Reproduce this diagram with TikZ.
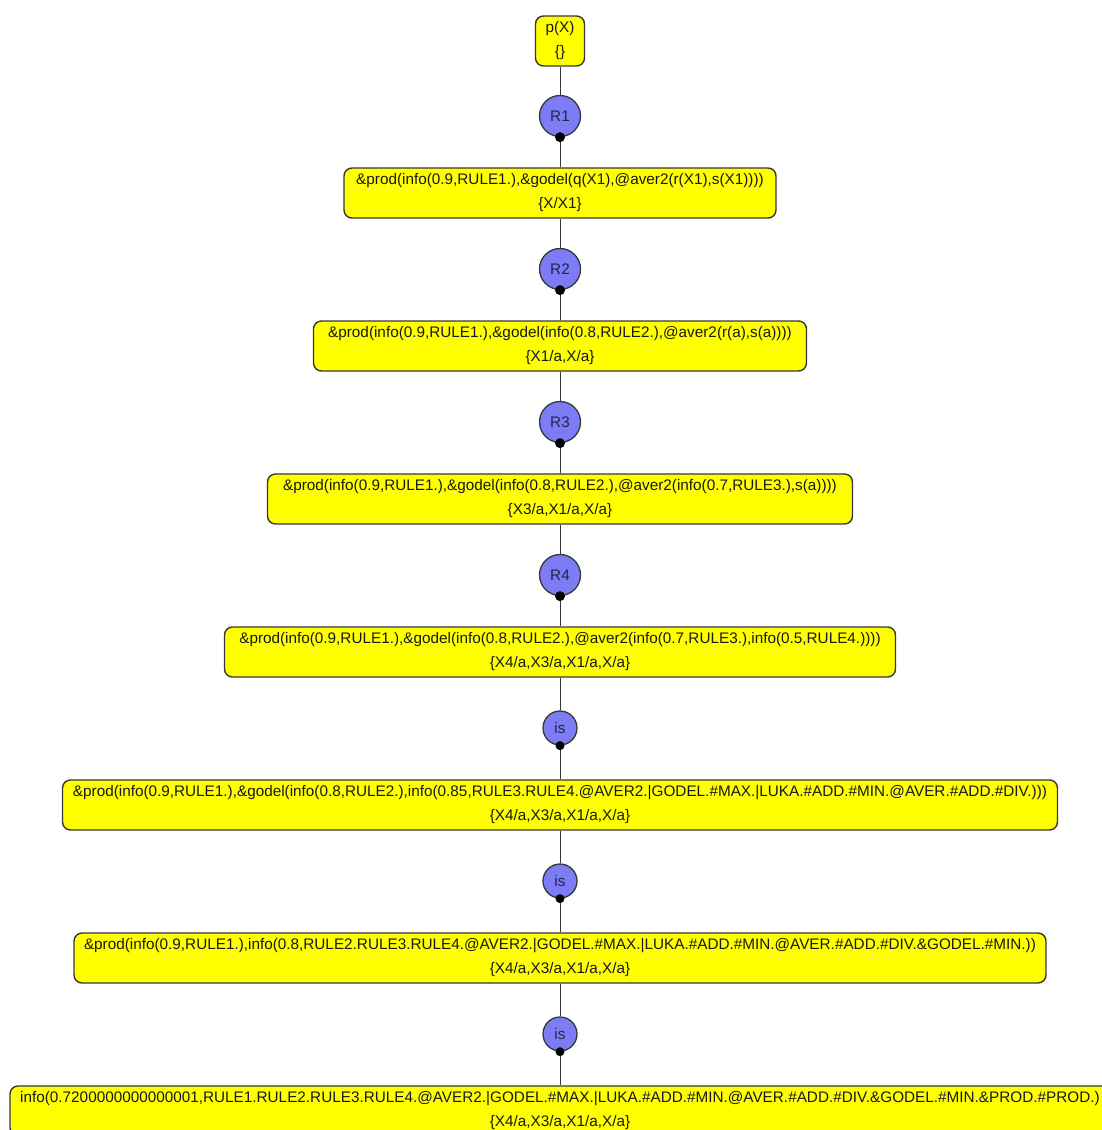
\documentclass[tikz,border=0pt]{standalone}
\usepackage{fontspec}
\setmainfont{Liberation Sans}
\usepackage{tikz}
\definecolor{figline}{RGB}{55,55,55}
\definecolor{goalfill}{RGB}{255,255,0}
\definecolor{rulefill}{RGB}{124,124,244}
\definecolor{ruletext}{RGB}{35,35,75}
\definecolor{goaltext}{RGB}{25,25,25}
\tikzset{
  gbox/.style  ={draw=figline, fill=goalfill, line width=1.4pt, rounded corners=8pt, minimum height=50pt, inner xsep=10pt, inner ysep=0pt, align=center, text=goaltext, font=\fontsize{15.3}{24}\selectfont},
  rcirc/.style ={circle, draw=figline, fill=rulefill, line width=1.3pt, inner sep=0pt, minimum size=41pt, text=ruletext, font=\fontsize{15.3}{18}\selectfont},
  iscirc/.style={rcirc, minimum size=34pt},
  edg/.style   ={draw=figline, line width=1pt},
  knob/.style  ={fill=black},
}

\begin{document}
\begin{tikzpicture}[x=1pt,y=-1pt]
  \useasboundingbox (0,0) rectangle (1102,1130);
  \clip (0,0) rectangle (1102,1130);
  \node[gbox,minimum width=49pt,inner xsep=2pt] (g0) at (560,41) {p(X)\\\{\}};
  \node[rcirc] (r1) at (560,116) {R1};
  \node[gbox,minimum width=432pt] (g1) at (560,193) {\&prod(info(0.9,RULE1.),\&godel(q(X1),@aver2(r(X1),s(X1))))\\\{X/X1\}};
  \node[rcirc] (r2) at (560,269) {R2};
  \node[gbox,minimum width=493pt] (g2) at (560,346) {\&prod(info(0.9,RULE1.),\&godel(info(0.8,RULE2.),@aver2(r(a),s(a))))\\\{X1/a,X/a\}};
  \node[rcirc] (r3) at (560,422) {R3};
  \node[gbox,minimum width=585pt] (g3) at (560,499) {\&prod(info(0.9,RULE1.),\&godel(info(0.8,RULE2.),@aver2(info(0.7,RULE3.),s(a))))\\\{X3/a,X1/a,X/a\}};
  \node[rcirc] (r4) at (560,575) {R4};
  \node[gbox,minimum width=671pt] (g4) at (560,652) {\&prod(info(0.9,RULE1.),\&godel(info(0.8,RULE2.),@aver2(info(0.7,RULE3.),info(0.5,RULE4.))))\\\{X4/a,X3/a,X1/a,X/a\}};
  \node[iscirc] (s1) at (560,728) {is};
  \node[gbox,minimum width=995pt] (g5) at (560,805) {\&prod(info(0.9,RULE1.),\&godel(info(0.8,RULE2.),info(0.85,RULE3.RULE4.@AVER2.|GODEL.\#MAX.|LUKA.\#ADD.\#MIN.@AVER.\#ADD.\#DIV.)))\\\{X4/a,X3/a,X1/a,X/a\}};
  \node[iscirc] (s2) at (560,881) {is};
  \node[gbox,minimum width=967pt] (g6) at (560,958) {\&prod(info(0.9,RULE1.),info(0.8,RULE2.RULE3.RULE4.@AVER2.|GODEL.\#MAX.|LUKA.\#ADD.\#MIN.@AVER.\#ADD.\#DIV.\&GODEL.\#MIN.))\\\{X4/a,X3/a,X1/a,X/a\}};
  \node[iscirc] (s3) at (560,1034) {is};
  \node[gbox,minimum width=1100pt] (g7) at (560,1111) {info(0.7200000000000001,RULE1.RULE2.RULE3.RULE4.@AVER2.|GODEL.\#MAX.|LUKA.\#ADD.\#MIN.@AVER.\#ADD.\#DIV.\&GODEL.\#MIN.\&PROD.\#PROD.)\\\{X4/a,X3/a,X1/a,X/a\}};
  \draw[edg] (g0) -- (r1);
  \draw[edg] (r1) -- (g1);
  \draw[edg] (g1) -- (r2);
  \draw[edg] (r2) -- (g2);
  \draw[edg] (g2) -- (r3);
  \draw[edg] (r3) -- (g3);
  \draw[edg] (g3) -- (r4);
  \draw[edg] (r4) -- (g4);
  \draw[edg] (g4) -- (s1);
  \draw[edg] (s1) -- (g5);
  \draw[edg] (g5) -- (s2);
  \draw[edg] (s2) -- (g6);
  \draw[edg] (g6) -- (s3);
  \draw[edg] (s3) -- (g7);
  \fill[knob] (r1.south) circle (5);
  \fill[knob] (r2.south) circle (5);
  \fill[knob] (r3.south) circle (5);
  \fill[knob] (r4.south) circle (5);
  \fill[knob] (s1.south) circle (4.5);
  \fill[knob] (s2.south) circle (4.5);
  \fill[knob] (s3.south) circle (4.5);
\end{tikzpicture}
\end{document}
